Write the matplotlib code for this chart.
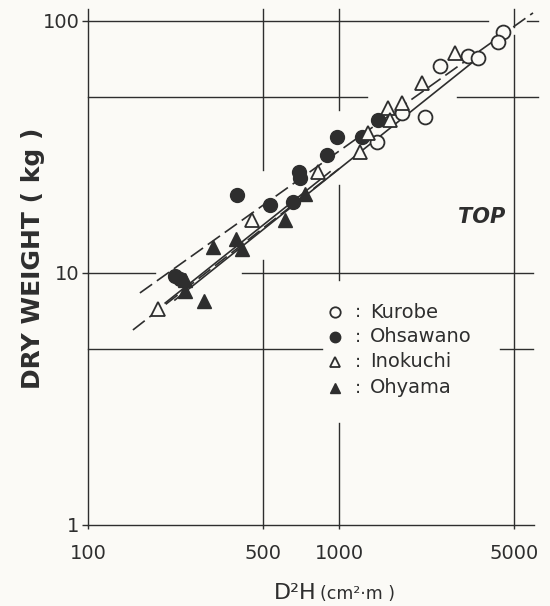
"""Dry weight vs D2H (log-log) for four stands, TOP part."""

import matplotlib

matplotlib.use("Agg")

import matplotlib.pyplot as plt

INK = "#2e2e2e"
PAPER = "#fbfaf6"

# open circles
kurobe_x = [4500, 4300, 3270, 3580, 2530, 2200, 1780, 1420]
kurobe_y = [90.4, 82.6, 72.6, 71.3, 66.3, 41.6, 43.1, 33.1]
# filled circles
ohsawano_x = [1430, 1235, 982, 896, 693, 699, 656, 531, 392, 222, 233]
ohsawano_y = [40.5, 34.6, 34.6, 29.4, 25.2, 23.8, 19.1, 18.6, 20.4, 9.73, 9.47]
# open triangles
inokuchi_x = [2900, 2140, 1780, 1570, 1600, 1305, 1212, 825, 450, 190]
inokuchi_y = [74.7, 56.8, 47.3, 45.2, 40.5, 35.9, 30.2, 25.2, 16.2, 7.2]
# filled triangles
ohyama_x = [732, 609, 389, 411, 315, 243, 243, 290]
ohyama_y = [20.6, 16.2, 13.6, 12.5, 12.7, 9.38, 8.48, 7.74]

# regression lines (end points)
fit_ohsawano_x = [161, 5930]
fit_ohsawano_y = [8.33, 107.6]
fit_inokuchi_x = [151, 1000]
fit_inokuchi_y = [5.94, 25.9]
fit_ohyama_x = [203, 921]
fit_ohyama_y = [7.6, 25.2]
fit_kurobe_x = [222, 3580]
fit_kurobe_y = [7.81, 71.3]

x_ticks = [100, 500, 1000, 5000]
y_ticks = [1, 10, 100]

legend_names = ["Kurobe", "Ohsawano", "Inokuchi", "Ohyama"]


def draw_grid(ax):
    # the grid of the original is broken where data and legend sit
    horiz = [
        (100, [(100, 3930), (5610, 6210)]),
        (50, [(100, 1294), (2951, 6210)]),
        (10, [(100, 185), (411, 5930)]),
        (5, [(100, 855), (4380, 5930)]),
        (1, [(100, 6000)]),
    ]
    vert = [
        (100, [(1, 112)]),
        (500, [(25.6, 112), (1, 11.3)]),
        (1000, [(44.3, 112), (9.38, 22.3), (1, 2.53)]),
        (5000, [(94.7, 112), (1, 88)]),
    ]
    for y, segs in horiz:
        for x0, x1 in segs:
            ax.plot([x0, x1], [y, y], color=INK, lw=1.0, clip_on=False, zorder=1)
    for x, segs in vert:
        for y0, y1 in segs:
            ax.plot([x, x], [y0, y1], color=INK, lw=1.0, clip_on=False, zorder=1)


def main():
    plt.rcParams["font.family"] = ["DejaVu Sans"]
    fig = plt.figure(figsize=(5.5, 6.06), dpi=100, facecolor=PAPER)
    ax = fig.add_axes([0.16, 0.1337, 0.8273, 0.857])
    ax.set_facecolor(PAPER)
    ax.set_xscale("log")
    ax.set_yscale("log")
    ax.set_xlim(100, 6500)
    ax.set_ylim(1, 115)
    for s in ax.spines.values():
        s.set_visible(False)

    draw_grid(ax)

    lw = 1.2
    ax.plot(fit_ohsawano_x, fit_ohsawano_y, color=INK, lw=lw, dashes=(9, 3.5), zorder=2)
    ax.plot(fit_inokuchi_x, fit_inokuchi_y, color=INK, lw=lw, dashes=(9, 3.5), zorder=2)
    ax.plot(fit_ohyama_x, fit_ohyama_y, color=INK, lw=lw, zorder=2)
    ax.plot(fit_kurobe_x, fit_kurobe_y, color=INK, lw=lw, zorder=2)

    ms = 10
    ax.plot(kurobe_x, kurobe_y, "o", ms=ms, mfc=PAPER, mec=INK, mew=1.3, zorder=3)
    ax.plot(ohsawano_x, ohsawano_y, "o", ms=ms, mfc=INK, mec=INK, zorder=3)
    ax.plot(inokuchi_x, inokuchi_y, "^", ms=ms, mfc=PAPER, mec=INK, mew=1.3, zorder=3)
    ax.plot(ohyama_x, ohyama_y, "^", ms=ms, mfc=INK, mec=INK, zorder=3)

    ax.set_xticks(x_ticks)
    ax.set_xticklabels([str(v) for v in x_ticks])
    ax.set_yticks(y_ticks)
    ax.set_yticklabels([str(v) for v in y_ticks])
    ax.minorticks_off()
    ax.tick_params(axis="x", length=3, width=1.0, color=INK, pad=11,
                   labelsize=14, labelcolor=INK)
    ax.tick_params(axis="y", length=4, width=1.0, color=INK, pad=2,
                   labelsize=14, labelcolor=INK)

    # legend, drawn by hand: marker, colon, name
    styles = [
        dict(marker="o", mfc=PAPER, mec=INK, mew=1.3),
        dict(marker="o", mfc=INK, mec=INK),
        dict(marker="^", mfc=PAPER, mec=INK, mew=1.3),
        dict(marker="^", mfc=INK, mec=INK),
    ]
    rows = [0.410, 0.362, 0.314, 0.264]
    for name, style, y in zip(legend_names, styles, rows):
        ax.plot([0.543], [y], ms=7.5, transform=ax.transAxes, clip_on=False,
                linestyle="none", **style)
        ax.text(0.594, y, ":", transform=ax.transAxes, ha="center", va="center",
                fontsize=13, color=INK)
        ax.text(0.62, y, name, transform=ax.transAxes, ha="left", va="center",
                fontsize=14, color=INK)

    ax.text(0.866, 0.593, "TOP", transform=ax.transAxes, ha="center", va="center",
            fontsize=15, fontstyle="italic", fontweight="bold", color=INK)

    fig.text(0.06, 0.573, "DRY WEIGHT ( kg )", rotation=90, ha="center", va="center",
             fontsize=18, fontweight="bold", color=INK)
    fig.text(0.575, 0.012, "D²H", ha="right", va="baseline", fontsize=16, color=INK)
    fig.text(0.582, 0.012, "(cm²·m )", ha="left", va="baseline", fontsize=12.5, color=INK)

    fig.savefig("out.png", dpi=100, facecolor=PAPER)
    plt.close(fig)


if __name__ == "__main__":
    main()
